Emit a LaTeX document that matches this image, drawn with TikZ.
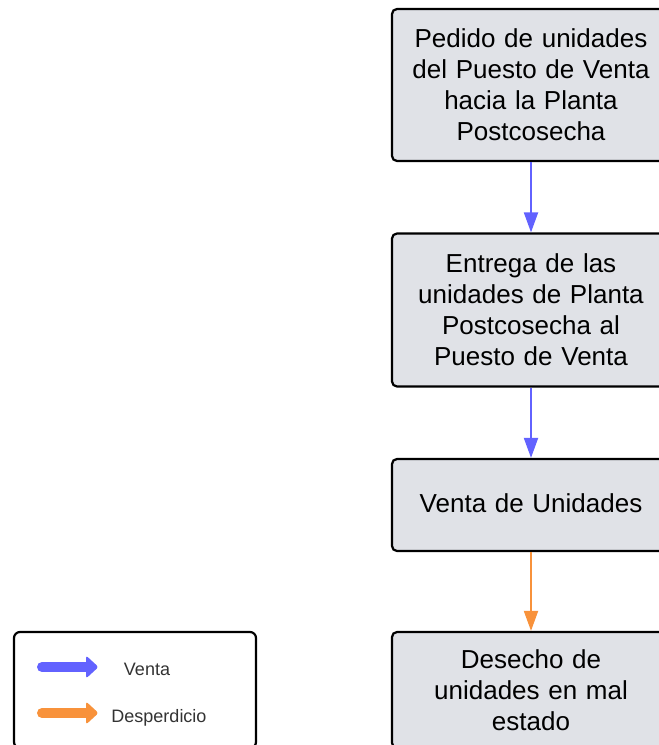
\documentclass[tikz,border=0pt]{standalone}
\usepackage{fontspec}
\setmainfont{Liberation Sans}
\usetikzlibrary{arrows.meta}
\definecolor{boxfill}{HTML}{E0E2E7}
\definecolor{ventac}{HTML}{6262FF}
\definecolor{despc}{HTML}{F8923B}
\definecolor{legtxt}{HTML}{333333}
\begin{document}
\begin{tikzpicture}[x=1bp,y=-1bp,
  stepbox/.style={draw=black, line width=2.2bp, rounded corners=5bp, fill=boxfill,
    minimum width=278bp, text width=270bp, align=center, inner sep=0pt,
    font=\fontsize{26bp}{31bp}\selectfont},
  legendbox/.style={draw=black, line width=2.2bp, rounded corners=6bp, fill=white,
    minimum width=242bp, minimum height=116bp, inner sep=0pt},
  legtext/.style={font=\fontsize{18bp}{21bp}\selectfont, text=legtxt, inner sep=0pt, anchor=base},
  flow/.style={line width=2bp, -{Triangle[length=20bp,width=14bp]}},
  legshaft/.style={line width=10bp, line cap=round}]
\useasboundingbox (0,0) rectangle (659,745);
\clip (0,0) rectangle (659,745);
\node[stepbox, minimum height=152bp] (b1) at (531,85) {Pedido de unidades\\del Puesto de Venta\\hacia la Planta\\Postcosecha};
\node[stepbox, minimum height=153bp] (b2) at (531,310) {Entrega de las\\unidades de Planta\\Postcosecha al\\Puesto de Venta};
\node[stepbox, minimum height=92bp] (b3) at (531,505) {\raisebox{4bp}{Venta de Unidades}};
\node[stepbox, minimum height=116bp] (b4) at (531,690) {Desecho de\\unidades en mal\\estado};
\draw[flow, ventac] (b1.south) -- (b2.north);
\draw[flow, ventac] (b2.south) -- (b3.north);
\draw[flow, despc] (b3.south) -- (b4.north);
% legend
\node[legendbox] (leg) at (135,690) {};
\coordinate (va) at (42,667);
\coordinate (vb) at (88,667);
\coordinate (da) at (42,713);
\coordinate (db) at (88,713);
\draw[legshaft, ventac] (va) -- (vb);
\fill[ventac, rounded corners=2.5bp] (86,655.5) -- (98.5,667) -- (86,678.5) -- cycle;
\draw[legshaft, despc] (da) -- (db);
\fill[despc, rounded corners=2.5bp] (86,701.5) -- (98.5,713) -- (86,724.5) -- cycle;
\node[legtext] (lv) at (147,675) {Venta};
\node[legtext] (ld) at (159,722) {Desperdicio};
\end{tikzpicture}
\end{document}
